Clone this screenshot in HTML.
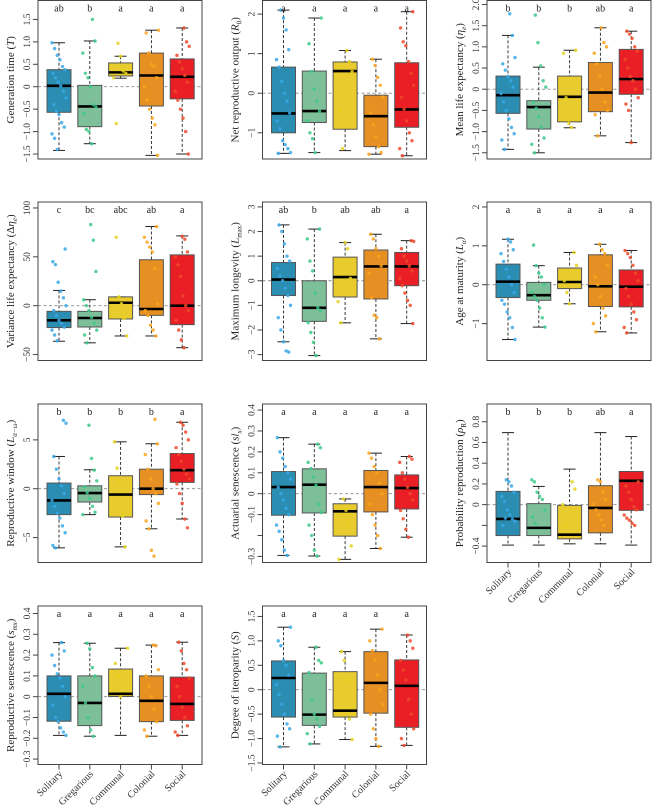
<!DOCTYPE html>
<html><head><meta charset="utf-8">
<style>
html,body{margin:0;padding:0;background:#fff;}
svg{display:block;font-family:"Liberation Serif",serif;}
</style></head>
<body>
<svg id="fig" width="652" height="809" viewBox="0 0 652 809"></svg>
<script>
const categories = ["Solitary","Gregarious","Communal","Colonial","Social"];
const panelTitles = [
 'Generation time (<tspan font-style="italic">T</tspan>)',
 'Net reproductive output (<tspan font-style="italic">R</tspan><tspan font-size="7" dy="3">0</tspan><tspan dy="-3">)</tspan>',
 'Mean life expectancy (<tspan font-style="italic">η</tspan><tspan font-size="7" dy="3" font-style="italic">e</tspan><tspan dy="-3">)</tspan>',
 'Variance life expectancy (Δ<tspan font-style="italic">η</tspan><tspan font-size="7" dy="3" font-style="italic">e</tspan><tspan dy="-3">)</tspan>',
 'Maximum longevity (<tspan font-style="italic">L</tspan><tspan font-size="7" dy="3">max</tspan><tspan dy="-3">)</tspan>',
 'Age at maturity (<tspan font-style="italic">L</tspan><tspan font-size="7" dy="3" font-style="italic">α</tspan><tspan dy="-3">)</tspan>',
 'Reproductive window (<tspan font-style="italic">L</tspan><tspan font-size="7" dy="3" font-style="italic">α−ω</tspan><tspan dy="-3">)</tspan>',
 'Actuarial senescence (<tspan font-style="italic">sl</tspan><tspan font-size="7" dy="3" font-style="italic">x</tspan><tspan dy="-3">)</tspan>',
 'Probability reproduction (<tspan font-style="italic">ρ</tspan><tspan font-size="7" dy="3">R</tspan><tspan dy="-3">)</tspan>',
 'Reproductive senescence (<tspan font-style="italic">s</tspan><tspan font-size="7" dy="3" font-style="italic">mx</tspan><tspan dy="-3">)</tspan>',
 'Degree of iteroparity (<tspan font-style="italic">S</tspan>)'
];
const letters = [
 ["ab","b","a","a","a"],["a","a","a","a","a"],["b","b","b","ab","a"],
 ["c","bc","abc","ab","a"],["ab","b","ab","ab","a"],["a","a","a","a","a"],
 ["b","b","b","b","a"],["a","a","a","a","a"],["b","b","b","ab","a"],
 ["a","a","a","a","a"],["a","a","a","a","a"]
];
const yDomains = [[-1.611,1.922],[-1.662,2.343],[-1.647,2.094],[-56.1,106.1],[-3.24,3.2],[-1.949,2.128],[-7.55,8.67],[-0.329,0.429],[-0.558,0.971],[-0.326,0.436],[-1.531,1.714]];
const yTicks = [
 [-1.5,-1,-0.5,0,0.5,1,1.5],[-1,0,1,2],[-1.5,-1,-0.5,0,0.5,1,1.5,2],[-50,0,50,100],
 [-3,-2,-1,0,1,2,3],[-1,0,1,2],[-5,0,5],[-0.3,-0.2,-0.1,0,0.1,0.2,0.3,0.4],
 [-0.4,-0.2,0,0.2,0.4,0.6,0.8],[-0.3,-0.2,-0.1,0,0.1,0.2,0.3,0.4],[-1.5,-1,-0.5,0,0.5,1,1.5]
];
const yTickLabels = [
 ["−1.5","−1.0","−0.5","0","0.5","1.0","1.5"],["−1","0","1","2"],["−1.5","−1.0","−0.5","0","0.5","1.0","1.5","2.0"],["−50","0","50","100"],
 ["−3","−2","−1","0","1","2","3"],["−1","0","1","2"],["−5","0","5"],["−0.3","","−0.1","0","0.1","0.2","0.3","0.4"],
 ["−0.4","","0","0.2","0.4","0.6","0.8"],["−0.3","−0.2","−0.1","0","0.1","0.2","0.3","0.4"],["−1.5","−1.0","−0.5","0","0.5","1.0","1.5"]
];
const q1s = [[-0.57,-0.89,0.24,-0.43,-0.27],[-1.0,-0.74,-0.91,-1.35,-0.86],[-0.57,-0.94,-0.77,-0.53,-0.12],[-22.4,-21.8,-13.6,-9.9,-19.4],[-0.6,-1.65,-0.66,-0.74,-0.2],[-0.33,-0.4,-0.1,-0.56,-0.57],[-2.65,-1.36,-2.9,-0.6,0.65],[-0.103,-0.092,-0.203,-0.087,-0.073],[-0.298,-0.298,-0.33,-0.272,-0.055],[-0.118,-0.139,0.001,-0.12,-0.114],[-0.56,-0.73,-0.56,-0.48,-0.77]];
const medians = [[0.02,-0.44,0.32,0.25,0.22],[-0.51,-0.45,0.56,-0.58,-0.41],[-0.14,-0.42,-0.18,-0.08,0.24],[-15,-12.6,3,-3.4,0],[0.05,-1.1,0.15,0.58,0.58],[0.08,-0.27,0.07,-0.04,-0.05],[-1.2,-0.44,-0.6,0,1.9],[0.032,0.043,-0.084,0.032,0.027],[-0.138,-0.224,-0.29,-0.032,0.23],[0.014,-0.03,0.014,-0.02,-0.035],[0.24,-0.51,-0.43,0.14,0.08]];
const q3s = [[0.38,0.03,0.53,0.75,0.62],[0.66,0.56,0.79,-0.05,0.77],[0.31,-0.27,0.31,0.63,0.94],[-5.8,-5.8,9,47,52],[0.74,0,0.96,1.25,1.15],[0.53,0.06,0.43,0.77,0.38],[0.58,0.3,1.33,2.0,3.6],[0.106,0.119,-0.048,0.111,0.09],[0.128,0.01,-0.007,0.183,0.32],[0.1,0.1,0.133,0.1,0.094],[0.59,0.34,0.37,0.78,0.61]];
const whiskLo = [[-1.42,-1.27,0.19,-1.53,-1.5],[-1.52,-1.5,-1.45,-1.54,-1.58],[-1.42,-1.5,-0.91,-1.1,-1.26],[-36.4,-38,-31,-31,-43],[-2.48,-3.04,-1.71,-2.36,-1.74],[-1.41,-1.09,-0.49,-1.21,-1.24],[-6.05,-2.65,-5.95,-4.1,-3.1],[-0.295,-0.298,-0.314,-0.262,-0.208],[-0.39,-0.39,-0.378,-0.378,-0.39],[-0.186,-0.19,-0.186,-0.19,-0.186],[-1.17,-1.11,-1.02,-1.16,-1.14]];
const whiskHi = [[0.98,1.02,0.68,1.26,1.31],[2.1,1.9,1.08,0.86,2.06],[1.27,0.52,0.92,1.45,1.37],[15.6,6.1,9,81,71.4],[2.27,2.1,1.55,1.89,1.63],[1.17,0.49,0.83,1.04,0.88],[3.3,1.94,4.8,4.6,6.8],[0.268,0.237,-0.025,0.194,0.178],[0.695,0.176,0.343,0.695,0.657],[0.26,0.257,0.233,0.248,0.262],[1.28,0.87,0.78,1.24,1.12]];
const points = [
 [[0.98,0.85,0.7,0.6,0.45,0.38,0.3,0.2,0.1,0.02,-0.1,-0.25,-0.4,-0.55,-0.62,-0.8,-0.9,-1.05,-1.15,-1.4],[1.5,1.02,0.75,0.3,0.2,0.0,-0.4,-0.45,-0.6,-0.95,-1.0,-1.27],[0.97,0.68,0.35,0.3,0.2,-0.82],[1.26,1.2,0.75,0.5,0.45,0.2,0.0,-0.3,-0.5,-0.7,-0.85,-1.53],[1.31,1.0,0.9,0.7,0.55,0.4,0.25,0.1,-0.1,-0.3,-0.5,-0.7,-1.0,-1.5]],
 [[2.1,1.9,1.6,1.1,0.85,0.66,0.3,0.0,-0.2,-0.5,-0.7,-0.9,-1.2,-1.3,-1.4,-1.5,-1.52],[1.9,1.25,0.55,0.1,-0.2,-0.45,-0.7,-1.0,-1.15,-1.5],[1.08,0.8,0.55,-0.45,-1.4],[0.86,0.7,0.4,0.2,-0.1,-0.5,-0.8,-1.1,-1.35,-1.5,-1.54],[2.06,1.65,1.3,1.2,0.8,0.5,0.2,-0.1,-0.4,-0.7,-1.0,-1.2,-1.4,-1.58]],
 [[1.78,1.27,0.75,0.6,0.45,0.3,0.2,0.05,-0.1,-0.3,-0.5,-0.7,-0.9,-1.05,-1.2,-1.42],[1.75,1.1,0.55,0.2,0.05,-0.3,-0.45,-0.65,-0.9,-1.15,-1.3,-1.5],[0.92,0.85,-0.2,-0.8,-0.9],[1.45,1.1,1.0,0.85,0.6,0.3,0.0,-0.3,-0.5,-0.6,-1.1],[1.37,1.3,1.2,1.0,0.9,0.7,0.5,0.3,0.2,0.0,-0.2,-0.35,-0.5,-1.26]],
 [[58,45,42,24,15,8,0,-5,-10,-15,-18,-22,-25,-30,-36],[83,67,35,6,0,-5,-12,-18,-25,-30,-38],[70,9,2,-13,-31],[81,70,65,60,55,38,2,-5,-10,-20,-25,-31],[71,68,55,50,42,30,10,0,-5,-15,-25,-35,-43]],
 [[2.27,2.0,1.5,1.0,0.8,0.5,0.2,0.0,-0.3,-0.6,-1.0,-1.5,-2.0,-2.48,-2.85,-2.9],[2.1,1.7,0.8,0.4,-0.5,-1.1,-1.2,-1.7,-2.1,-2.5,-3.04],[1.55,1.3,0.1,-0.85,-1.71],[1.89,1.7,1.3,1.0,0.6,0.3,-0.7,-1.4,-1.5,-2.36],[1.63,1.6,1.3,1.0,0.8,0.6,0.4,0.1,-0.2,-0.5,-0.8,-1.0,-1.74]],
 [[1.17,1.1,0.9,0.8,0.6,0.4,0.2,0.0,-0.2,-0.4,-0.5,-0.7,-0.85,-1.1,-1.41],[1.02,0.49,0.3,0.2,0.0,-0.2,-0.3,-0.4,-0.6,-0.85,-1.09],[0.83,0.5,0.1,-0.2,-0.49],[1.04,0.9,0.8,0.5,0.2,0.0,-0.3,-0.6,-0.8,-1.0,-1.21],[0.88,0.8,0.7,0.5,0.3,0.1,-0.1,-0.3,-0.5,-0.7,-0.9,-1.1,-1.24]],
 [[7,6.7,3.3,2.0,1.0,0.3,-0.5,-1.2,-1.8,-2.5,-3.0,-3.8,-4.5,-5.8,-6.05],[6.5,3.1,1.9,0.8,0.2,-0.4,-1.0,-1.8,-2.4,-2.65],[4.8,2.1,0.8,-2.8,-5.95],[7.1,4.6,3.5,2.0,1.0,0.0,-0.5,-1.5,-3.3,-4.1,-6.3,-6.9],[6.8,6.5,5.8,5.0,4.2,3.5,2.8,2.0,1.5,1.0,0.5,-0.5,-1.5,-3.1,-4.0]],
 [[0.268,0.2,0.17,0.13,0.1,0.07,0.03,0.0,-0.03,-0.07,-0.1,-0.15,-0.18,-0.22,-0.27,-0.295],[0.237,0.22,0.15,0.12,0.08,0.04,-0.05,-0.09,-0.15,-0.2,-0.27,-0.298],[-0.025,-0.08,-0.14,-0.25,-0.314],[0.194,0.17,0.13,0.1,0.05,0.0,-0.05,-0.1,-0.15,-0.2,-0.262],[0.178,0.165,0.15,0.1,0.07,0.03,0.0,-0.03,-0.08,-0.12,-0.17,-0.208]],
 [[0.24,0.22,0.18,0.12,0.08,0.03,-0.05,-0.1,-0.14,-0.16,-0.2,-0.13],[0.24,0.22,0.12,0.08,0.05,-0.05,-0.12,-0.18],[0.22,0.15,0.0,-0.2],[0.24,0.22,0.12,0.05,0.0,-0.05,-0.1,-0.15,-0.2],[0.22,0.18,0.12,0.05,-0.02,-0.05,-0.1,-0.13,-0.15,-0.18,-0.2]],
 [[0.26,0.22,0.2,0.15,0.11,0.09,0.05,0.0,-0.04,-0.1,-0.12,-0.15,-0.17,-0.186],[0.257,0.23,0.14,0.1,0.05,-0.03,-0.1,-0.16,-0.19],[0.233,0.16,0.1,0.0],[0.248,0.245,0.13,0.1,0.05,0.0,-0.06,-0.12,-0.16,-0.19],[0.262,0.22,0.16,0.13,0.09,0.05,0.0,-0.05,-0.1,-0.14,-0.17,-0.186]],
 [[1.28,1.0,0.9,0.6,0.5,0.3,0.1,-0.1,-0.3,-0.5,-0.7,-0.8,-0.95,-1.17],[0.87,0.6,0.55,0.35,-0.2,-0.5,-0.6,-0.75,-0.9,-1.11],[0.78,0.6,0.2,-0.6,-1.02],[1.24,1.0,0.8,0.6,0.3,0.0,-0.3,-0.5,-0.8,-1.0,-1.16],[1.12,1.0,0.85,0.6,0.4,0.2,-0.2,-0.5,-0.8,-1.0,-1.14]]
];
const boxFill = ['#2b8db1','#7dbf98','#e8cb2c','#e68f22','#ea1f26'];
const pointFill = ['#38a8e8','#3cc98a','#e6d21a','#fca31c','#f04a2a'];

const NS = "http://www.w3.org/2000/svg";
const svg = document.getElementById('fig');
const colLeft = [38, 262.5, 487], rowTop = [0.5, 202, 404, 606];
const PW = 164, PH = 158.5;
function mk(tag, attrs, parent){ const e=document.createElementNS(NS,tag); for(const k in attrs) e.setAttribute(k,attrs[k]); (parent||svg).appendChild(e); return e; }

for(let p=0;p<11;p++){
  const L = colLeft[p%3], T = rowTop[Math.floor(p/3)];
  const g = mk('g',{});
  
  
  const [y0,y1] = yDomains[p];
  const ys = v => T + PH - (v - y0)/(y1 - y0)*PH;
  const xs = i => L + 21 + i*30.8;
  // zero line
  const zl = mk('line',{x1:L,x2:L+PW,y1:ys(0),y2:ys(0),stroke:'#8a8a8a','stroke-dasharray':'3,2.5','stroke-width':0.9},g);
  
  
  for(let i=0;i<5;i++){
    const cx = xs(i), bw = 24, cw = 12;
    const grp = mk('g',{},g);
    
    
    mk('line',{x1:cx,x2:cx,y1:ys(whiskHi[p][i]),y2:ys(q3s[p][i]),stroke:'#222','stroke-dasharray':'3,2','stroke-width':0.9},grp);
    mk('line',{x1:cx,x2:cx,y1:ys(q1s[p][i]),y2:ys(whiskLo[p][i]),stroke:'#222','stroke-dasharray':'3,2','stroke-width':0.9},grp);
    mk('line',{x1:cx-cw/2,x2:cx+cw/2,y1:ys(whiskHi[p][i]),y2:ys(whiskHi[p][i]),stroke:'#222','stroke-width':1},grp);
    mk('line',{x1:cx-cw/2,x2:cx+cw/2,y1:ys(whiskLo[p][i]),y2:ys(whiskLo[p][i]),stroke:'#222','stroke-width':1},grp);
    mk('rect',{x:cx-bw/2,y:ys(q3s[p][i]),width:bw,height:Math.max(1,ys(q1s[p][i])-ys(q3s[p][i])),fill:boxFill[i],stroke:'#555','stroke-width':1},grp);
    mk('line',{x1:cx-bw/2,x2:cx+bw/2,y1:ys(medians[p][i]),y2:ys(medians[p][i]),stroke:'#000','stroke-width':2.6},grp);
    points[p][i].forEach((v,k)=>{
      const jit = (((k*37+i*11+p*5)%17)/16 - 0.5)*14;
      const c = mk('circle',{cx:cx+jit,cy:ys(v),r:1.7,fill:pointFill[i],'fill-opacity':0.85},grp);
      
      
    });
    const lt = mk('text',{x:cx,y:T+11,'text-anchor':'middle','font-size':10,fill:'#222'},g);
    lt.textContent = letters[p][i];
    
    
  }
  const fr = mk('rect',{x:L,y:T,width:PW,height:PH,fill:'none',stroke:'#444','stroke-width':1},g);
  
  
  // y axis
  const tk = yTicks[p];
  const ax = mk('g',{},g);
  
  
  mk('line',{x1:L-0,x2:L-0,y1:ys(tk[0]),y2:ys(tk[tk.length-1]),stroke:'#444','stroke-width':1},ax);
  tk.forEach((v,k)=>{
    mk('line',{x1:L-5,x2:L,y1:ys(v),y2:ys(v),stroke:'#444','stroke-width':1},ax);
    const t = mk('text',{x:L-8,y:ys(v),'text-anchor':'middle','font-size':9.5,fill:'#333',transform:`rotate(-90 ${L-8} ${ys(v)})`},ax);
    t.textContent = yTickLabels[p][k];
  });
  const tt = mk('text',{x:L-24,y:T+PH/2,'text-anchor':'middle','font-size':11,fill:'#222',transform:`rotate(-90 ${L-24} ${T+PH/2})`},g);
  tt.innerHTML = panelTitles[p];
  
  
  // x axis
  if(p>=8){
    const xa = mk('g',{},g);
    
    
    const B = T+PH;
    for(let i=0;i<5;i++){
      mk('line',{x1:xs(i),x2:xs(i),y1:B,y2:B+5,stroke:'#444','stroke-width':1},xa);
      const lx = xs(i)+4, ly = B+10;
      const t = mk('text',{x:lx,y:ly,'text-anchor':'end','font-size':10,fill:'#333',transform:`rotate(-45 ${lx} ${ly})`},xa);
      t.textContent = categories[i];
    }
  }
}
</script>
</body></html>
